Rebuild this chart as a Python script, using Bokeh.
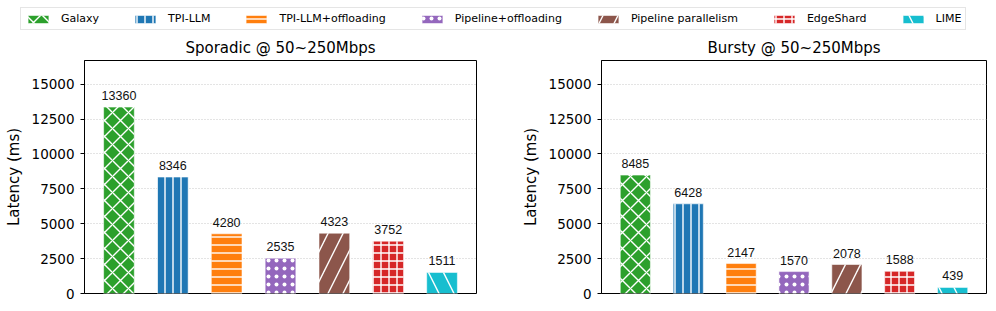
from bokeh.plotting import figure
from bokeh.layouts import column, row
from bokeh.models import (ColumnDataSource, FactorRange, Range1d, FixedTicker,
                          NumeralTickFormatter, Legend, LegendItem)
from bokeh.embed import file_html
from bokeh.resources import INLINE

# ---- data ----
methods = ["Galaxy", "TPI-LLM", "TPI-LLM+offloading", "Pipeline+offloading",
           "Pipeline parallelism", "EdgeShard", "LIME"]
sporadic = [13360, 8346, 4280, 2535, 4323, 3752, 1511]
bursty = [8485, 6428, 2147, 1570, 2078, 1588, 439]
colors = ["#2ca02c", "#1f77b4", "#ff7f0e", "#9467bd", "#8c564b", "#d62728", "#17becf"]
hatches = ["x", "|", "-", ".", "/", "+", "\\"]
hatch_scales = [16, 8, 8, 8, 30, 8, 30]
hatch_weights = [1.4, 1.4, 1.4, 1.4, 1.4, 1.4, 1.4]
yticks = [0, 2500, 5000, 7500, 10000, 12500, 15000]
titles = ["Sporadic @ 50~250Mbps", "Bursty @ 50~250Mbps"]

FONT = "DejaVu Sans"
YMAX = 13360 * 1.25


def make_source(vals):
    return ColumnDataSource(dict(
        method=methods, value=vals, label=[str(v) for v in vals],
        color=colors, hatch=hatches, hscale=hatch_scales, hweight=hatch_weights))


def add_bars(p, src, visible=True):
    return p.vbar(x="method", top="value", width=0.57, source=src,
                  fill_color="color", line_color="white", line_alpha=0.55, line_width=1,
                  hatch_pattern="hatch", hatch_color="white", hatch_scale="hscale",
                  hatch_weight="hweight", visible=visible)


def make_panel(vals, title, width, left, right):
    p = figure(width=width, height=271, output_backend="svg", toolbar_location=None,
               x_range=FactorRange(factors=methods, range_padding=0.04),
               y_range=Range1d(0, YMAX), title=title,
               min_border_left=left, min_border_right=right,
               min_border_top=28, min_border_bottom=10)
    src = make_source(vals)
    add_bars(p, src)
    p.text(x="method", y="value", text="label", source=src, text_align="center",
           text_baseline="bottom", y_offset=-7, text_font_size="12.5px",
           text_color="#111111")
    p.title.align = "center"
    p.title.text_font = FONT
    p.title.text_font_size = "15px"
    p.title.text_font_style = "normal"
    p.title.text_color = "black"
    p.title.standoff = 8
    p.xaxis.visible = False
    p.xgrid.visible = False
    p.ygrid.grid_line_color = "#c8c8c8"
    p.ygrid.grid_line_dash = "1 2"
    p.ygrid.ticker = FixedTicker(ticks=yticks)
    ya = p.yaxis[0]
    ya.ticker = FixedTicker(ticks=yticks)
    ya.formatter = NumeralTickFormatter(format="0")
    ya.axis_label = "Latency (ms)"
    ya.axis_label_text_font = FONT
    ya.axis_label_text_font_size = "15px"
    ya.axis_label_text_font_style = "normal"
    ya.axis_label_text_color = "black"
    ya.axis_label_standoff = 6
    ya.major_label_text_font = FONT
    ya.major_label_text_font_size = "13.5px"
    ya.major_label_text_color = "black"
    ya.major_label_standoff = 6
    ya.major_tick_in = 0
    ya.major_tick_out = 4
    ya.major_tick_line_color = "black"
    ya.minor_tick_line_color = None
    ya.axis_line_color = "black"
    p.outline_line_color = "black"
    p.outline_line_width = 1
    p.outline_line_alpha = 1
    return p


p1 = make_panel(sporadic, titles[0], 518, 84, 42)
p2 = make_panel(bursty, titles[1], 478, 76, 10)

# ---- legend strip ----
pl = figure(width=996, height=32, output_backend="svg", toolbar_location=None,
            x_range=FactorRange(factors=methods), y_range=Range1d(0, 1),
            min_border_left=0, min_border_right=0, min_border_top=0, min_border_bottom=0)
pl.axis.visible = False
pl.grid.visible = False
pl.outline_line_color = None
rl = add_bars(pl, make_source(sporadic), visible=False)
items = [LegendItem(label=m, renderers=[rl], index=i) for i, m in enumerate(methods)]
leg = Legend(items=items, orientation="horizontal", location=(20, 2),
             glyph_width=26, glyph_height=10, label_standoff=10, spacing=33,
             padding=4, margin=0, label_text_font=FONT, label_text_font_size="11px",
             label_text_color="black", label_height=10,
             border_line_color="#cccccc", border_line_width=1,
             background_fill_color="white", background_fill_alpha=1)
pl.add_layout(leg, "center")

layout = column(pl, row(p1, p2))
open("out.html", "w").write(file_html(layout, INLINE))
